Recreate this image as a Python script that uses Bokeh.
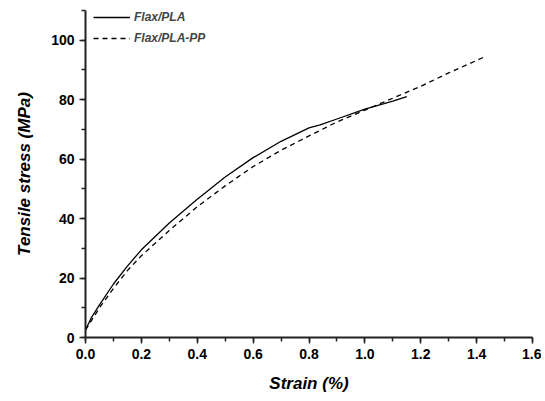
from bokeh.plotting import figure
from bokeh.models import Range1d, SingleIntervalTicker, Legend, LegendItem, NumeralTickFormatter
from bokeh.embed import file_html
from bokeh.resources import INLINE

# Data
pla_strain = [0, 0.02, 0.05, 0.1, 0.15, 0.2, 0.3, 0.4, 0.5, 0.6, 0.7, 0.8, 0.84, 0.9, 1.0, 1.1, 1.15]
pla_stress = [2.5, 6.5, 11, 18, 24, 29.5, 38.5, 46.5, 54, 60.5, 66, 70.5, 71.5, 73.5, 76.8, 79.5, 81]

pp_strain = [0, 0.02, 0.05, 0.1, 0.15, 0.2, 0.3, 0.4, 0.5, 0.6, 0.7, 0.8, 0.9, 1.0, 1.1, 1.2, 1.3, 1.4, 1.43]
pp_stress = [2.5, 5.5, 10, 16.5, 22.5, 27.5, 36, 44, 51, 57.5, 63, 67.8, 72.5, 76.5, 80.5, 84.5, 89, 93.2, 94.5]

series_names = ["Flax/PLA", "Flax/PLA-PP"]

p = figure(width=541, height=395, output_backend="svg", toolbar_location=None,
           x_range=Range1d(0, 1.6), y_range=Range1d(0, 110),
           min_border_left=85, min_border_right=9, min_border_top=10, min_border_bottom=50)
p.outline_line_color = None
p.grid.grid_line_color = None
p.background_fill_color = "white"

r1 = p.line(pla_strain, pla_stress, line_color="black", line_width=1.3)
r2 = p.line(pp_strain, pp_stress, line_color="black", line_width=1.3, line_dash="5 4")

for ax in (p.xaxis[0], p.yaxis[0]):
    ax.axis_line_width = 2
    ax.axis_line_color = "#222222"
    ax.major_tick_line_color = "#222222"
    ax.minor_tick_line_color = "#222222"
    ax.major_tick_line_width = 1.5
    ax.minor_tick_line_width = 1.5
    ax.major_tick_out = 6
    ax.major_tick_in = 0
    ax.minor_tick_out = 4
    ax.minor_tick_in = 0
    ax.major_label_text_font = "Liberation Sans"
    ax.major_label_text_font_style = "bold"
    ax.major_label_text_font_size = "14px"
    ax.major_label_text_color = "black"
    ax.axis_label_text_font = "Liberation Sans"
    ax.axis_label_text_font_style = "bold italic"
    ax.axis_label_text_font_size = "17px"
    ax.axis_label_text_color = "black"

p.xaxis[0].ticker = SingleIntervalTicker(interval=0.2, num_minor_ticks=2)
p.yaxis[0].ticker = SingleIntervalTicker(interval=20, num_minor_ticks=2)
p.xaxis[0].formatter = NumeralTickFormatter(format="0.0")
p.xaxis[0].axis_label = "Strain (%)"
p.yaxis[0].axis_label = "Tensile stress (MPa)"
p.xaxis[0].axis_label_standoff = 12
p.yaxis[0].axis_label_standoff = 14
p.xaxis[0].major_label_standoff = 5
p.yaxis[0].major_label_standoff = 5

legend = Legend(items=[LegendItem(label=series_names[0], renderers=[r1]),
                       LegendItem(label=series_names[1], renderers=[r2])],
                location=(8, 292))
legend.border_line_color = None
legend.background_fill_alpha = 0
legend.label_text_font = "Liberation Sans"
legend.label_text_font_style = "bold italic"
legend.label_text_font_size = "12px"
legend.glyph_width = 37
legend.glyph_height = 14
legend.spacing = 7
legend.padding = 0
legend.margin = 0
legend.label_standoff = 4
legend.label_height = 14
p.add_layout(legend)

open("out.html", "w").write(file_html(p, INLINE))
